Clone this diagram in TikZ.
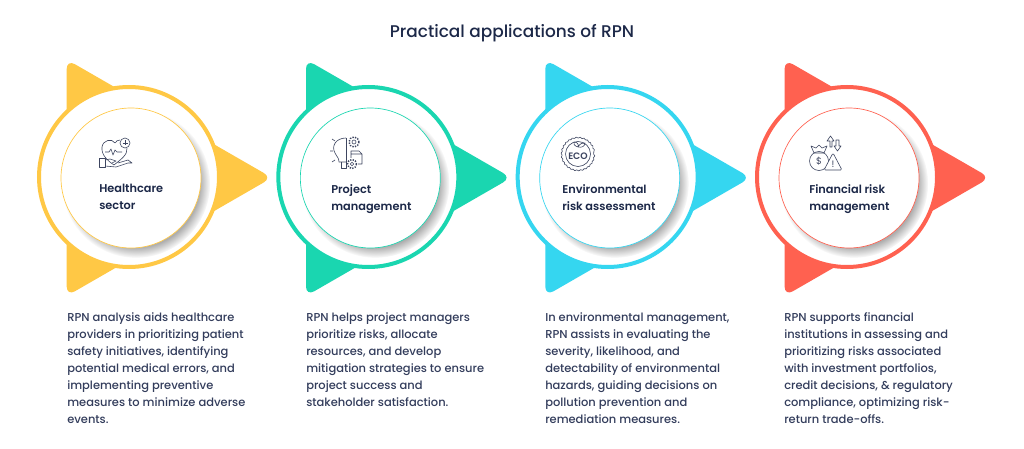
\documentclass[tikz,border=0pt]{standalone}
\usepackage{fontspec}
\setmainfont{Poppins}
\newfontfamily\headfont{Poppins Medium}
\newfontfamily\labelfont{Poppins SemiBold}
\usepackage{xcolor}
\usetikzlibrary{positioning,shadows,decorations.pathmorphing}
\definecolor{ink}{HTML}{1C2848}
\definecolor{bodyink}{HTML}{333D5C}
\definecolor{iconink}{HTML}{3D4560}
\definecolor{healthcol}{HTML}{FFC845}
\definecolor{projcol}{HTML}{1AD6B0}
\definecolor{envcol}{HTML}{35D6F0}
\definecolor{fincol}{HTML}{FF6150}

\begin{document}
\begin{tikzpicture}[x=0.75pt,y=-0.75pt,node distance=179.5pt,
                    triangle part/.style={rounded corners=7pt,fill=#1},
                    ring node/.style={circle,fill=white,draw=#1,line width=3pt,inner sep=0pt,minimum size=135pt},
                    disc node/.style={circle,fill=white,draw=#1,line width=0.5pt,inner sep=0pt,minimum size=105pt,
                      circular drop shadow={shadow xshift=3.5pt,shadow yshift=-4pt,shadow scale=1.06,fill=black,opacity=0.32}},
                    head node/.style={font=\labelfont\fontsize{8.5}{12.75}\selectfont,text=ink,anchor=north west,align=left,inner sep=0pt},
                    body node/.style={font=\headfont\fontsize{8.6}{12.75}\selectfont,text=bodyink,anchor=north west,align=left,inner sep=0pt},
                    icon line/.style={draw=iconink,line width=0.45pt,line join=round},
                    gear part/.style={draw=iconink,line width=1.1pt,dash pattern=on 1pt off 1pt}]

  \useasboundingbox (0,0) rectangle (1024,449);
  \fill[white] (0,0) rectangle (1024,449);

  \node[font=\headfont\fontsize{12.7}{16}\selectfont,text=ink] (title) at (512,33.5) {Practical applications of RPN};

  % triangles go first, rings sit on them
  \fill[triangle part=healthcol] (66.7,59.5) -- (272,177.7) -- (66.7,296) -- cycle;
  \fill[triangle part=projcol] (306,59.5) -- (511.3,177.7) -- (306,296) -- cycle;
  \fill[triangle part=envcol] (545.3,59.5) -- (750.6,177.7) -- (545.3,296) -- cycle;
  \fill[triangle part=fincol] (784.6,59.5) -- (989.9,177.7) -- (784.6,296) -- cycle;

  \node[ring node=healthcol] (ring1) at (129,177) {};
  \node[ring node=projcol] (ring2) [right of=ring1] {};
  \node[ring node=envcol] (ring3) [right of=ring2] {};
  \node[ring node=fincol] (ring4) [right of=ring3] {};

  \node[disc node=healthcol] (disc1) at (131,178) {};
  \node[disc node=projcol] (disc2) [right of=disc1] {};
  \node[disc node=envcol] (disc3) [right of=disc2] {};
  \node[disc node=fincol] (disc4) [right of=disc3] {};

  % healthcare icon
  \draw[icon line] (127,148) .. controls (128,155) and (120,160) .. (114,165) .. controls (108,161) and (101,155) .. (102,147)
    .. controls (103,140) and (112,138) .. (115,143) .. controls (116,141) and (118,140) .. (120,140);
  \draw[icon line,fill=white] (125,143) circle (5);
  \draw[icon line] (105,152) -- (109,152) -- (111,149) -- (113,155) -- (115,150) -- (117,152) -- (122,152);
  \draw[icon line] (122.5,143) -- (127.5,143) (125,140.5) -- (125,145.5);
  \draw[icon line,fill=white] (99,158) rectangle (105,167);
  \draw[icon line] (105,160) -- (110,159) -- (116,161) -- (112,163) (105,166) -- (116,167) -- (128,163) -- (132,163) -- (128,160) -- (118,163);

  % project icon
  \draw[icon line] (346,138) .. controls (336,138) and (331,146) .. (335,153) .. controls (337,157) and (339,158) .. (339,162) -- (346,162);
  \draw[icon line] (346,138) -- (346,168) -- (341,168) -- (341,162);
  \draw[icon line] (335,141) -- (332,139) (333,151) -- (330,151) (335,160) -- (332,162);
  \draw[gear part] (354,142) circle (5);
  \draw[icon line] (354,142) circle (2);
  \draw[gear part] (352,164) circle (4.5);
  \draw[icon line] (352,164) circle (1.8);
  \draw[icon line] (351,158) -- (351,151) -- (359,151) -- (362,154) -- (362,164) -- (358,164) (351,154) -- (362,154);

  % environment icon
  \draw[icon line,decorate,decoration={bumps,segment length=5.5pt,amplitude=1pt}] (578,154) circle (15.5);
  \draw[icon line] (578,154) circle (12.5);
  \draw[icon line] (578,147) .. controls (574,146) and (573,143) .. (574,142) .. controls (577,142) and (579,144) .. (578,147)
    .. controls (580,143) and (583,143) .. (585,143) .. controls (585,146) and (582,148) .. (578,147);
  \node[text=iconink,font=\labelfont\fontsize{7}{7}\selectfont,inner sep=0pt] (ecomark) at (578,156) {ECO};

  % finance icon
  \draw[icon line] (819,161) circle (9.5);
  \draw[icon line] (814,153) -- (811,146) -- (816,148) -- (819,145) -- (822,148) -- (827,146) -- (824,153) -- cycle;
  \node[text=iconink,font=\fontsize{7}{7}\selectfont,inner sep=0pt] (dollarmark) at (819,161) {\$};
  \draw[icon line,fill=white,rounded corners=1pt] (833,153) -- (842,170) -- (824,170) -- cycle;
  \node[text=iconink,font=\fontsize{7}{7}\selectfont,inner sep=0pt] (warnmark) at (833,164) {!};
  \draw[icon line] (830,147) -- (830,141) -- (827,141) -- (830.5,136) -- (834,141) -- (832,141) -- (832,147) -- cycle;
  \draw[icon line] (836,140) -- (836,146) -- (834,146) -- (837.5,151) -- (841,146) -- (839,146) -- (839,140) -- cycle;

  \node[head node] (head1) at (99,184) {Healthcare\\sector};
  \node[head node] (head2) at (331,184) {Project\\management};
  \node[head node] (head3) at (562,184) {Environmental\\risk assessment};
  \node[head node] (head4) at (809,184) {Financial risk\\management};

  \node[body node] (body1) at (67,312) {RPN analysis aids healthcare\\providers in prioritizing patient\\safety initiatives, identifying\\potential medical errors, and\\implementing preventive\\measures to minimize adverse\\events.};
  \node[body node] (body2) at (306,312) {RPN helps project managers\\prioritize risks, allocate\\resources, and develop\\mitigation strategies to ensure\\project success and\\stakeholder satisfaction.};
  \node[body node] (body3) at (545,312) {In environmental management,\\RPN assists in evaluating the\\severity, likelihood, and\\detectability of environmental\\hazards, guiding decisions on\\pollution prevention and\\remediation measures.};
  \node[body node] (body4) at (784,312) {RPN supports financial\\institutions in assessing and\\prioritizing risks associated\\with investment portfolios,\\credit decisions, \& regulatory\\compliance, optimizing risk-\\return trade-offs.};

\end{tikzpicture}
\end{document}
